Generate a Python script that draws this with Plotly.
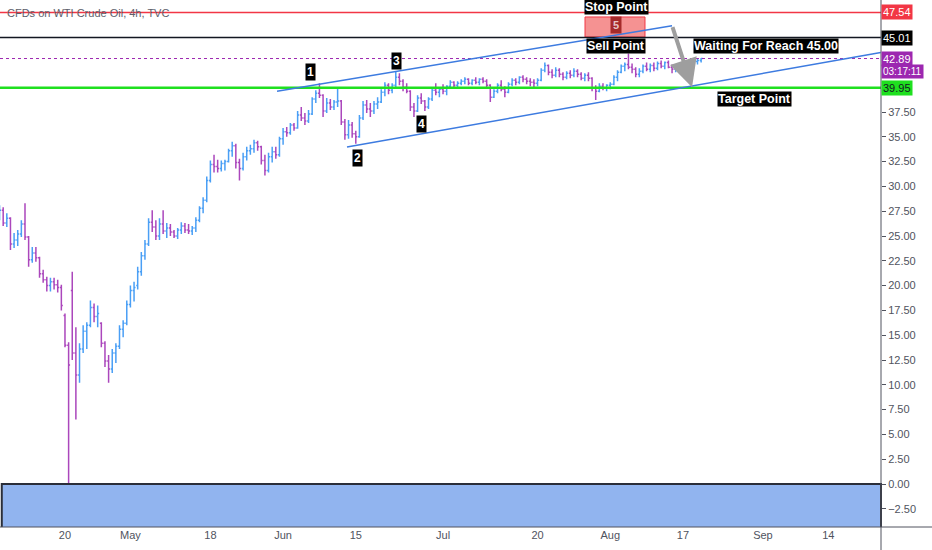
import plotly.graph_objects as go
import pandas as pd

days = pd.bdate_range("2020-04-07", "2020-08-19")
bar_times = [d + pd.Timedelta(hours=h) for d in days for h in (0, 12)]

# one line per trading week
opens = [
    27.2, 27.6, 26.3, 26.8, 24.2, 24.6, 25.2, 26.2,
    24.9, 22.6, 23.3, 22.8, 21.2, 20.6, 20.0, 20.4, 20.1, 19.8,
    17.0, 14.0, 19.5, 13.2, 11.0, 13.6, 15.4, 16.0, 17.8, 16.9,
    16.2, 14.2, 12.4, 11.6, 13.2, 13.9, 15.6, 16.2, 18.1, 19.5,
    20.0, 21.4, 23.0, 24.2, 26.4, 25.9, 25.0, 26.2, 25.5, 25.8,
    25.4, 25.0, 25.6, 26.0, 25.6, 25.5, 25.8, 26.6, 27.8, 28.6,
    30.6, 32.2, 32.0, 31.8, 32.3, 32.5, 33.6, 34.1, 32.4, 31.8,
    33.0, 33.6, 33.8, 34.4, 34.0, 32.6, 31.6, 33.0, 33.5, 33.2,
    34.8, 35.5, 35.4, 36.2, 35.9, 37.2, 36.9, 36.6, 37.3, 38.8,
    39.4, 39.2, 37.6, 38.4, 38.0, 38.5, 38.6, 36.5, 35.2, 36.2,
    35.3, 35.0, 36.9, 38.2, 37.8, 37.6, 38.3, 38.5, 39.5, 40.2,
    39.7, 40.2, 41.0, 40.6, 40.0, 39.6, 38.0, 37.6, 38.9, 38.6,
    38.0, 38.8, 39.7, 39.5, 39.8, 39.6, 40.1, 40.5, 40.2, 40.4,
    40.6, 40.8, 40.4, 40.7, 40.5, 40.8, 40.6, 40.2, 39.0, 39.6,
    40.2, 39.8, 39.5, 40.3, 40.7, 40.5, 41.0, 40.8, 40.6, 40.5,
    40.4, 40.7, 41.7, 42.2, 41.5, 41.2, 41.7, 41.3, 41.0, 41.4,
    41.2, 41.6, 41.3, 40.9, 41.2, 40.9, 39.9, 39.6, 40.1, 39.9,
    40.2, 40.3, 41.0, 41.5, 42.1, 42.3, 42.0, 41.8, 41.3, 41.6,
    42.1, 41.8, 42.2, 41.9, 42.4, 42.1, 42.5, 42.0, 41.8, 42.0,
    41.9, 42.4, 42.2, 42.5, 42.6, 42.7,
]
highs = [
    28.1, 27.9, 27.3, 26.9, 25.3, 25.6, 26.6, 28.3,
    25.0, 23.9, 23.9, 22.9, 21.6, 20.9, 20.8, 20.8, 20.6, 20.1,
    17.2, 14.3, 21.4, 15.8, 14.2, 16.0, 16.3, 18.5, 18.2, 18.0,
    16.3, 14.4, 13.0, 13.6, 14.2, 16.0, 16.5, 18.5, 20.0, 20.4,
    21.9, 23.4, 24.6, 26.8, 27.6, 26.6, 26.8, 27.6, 26.3, 26.2,
    25.6, 25.8, 26.4, 26.3, 26.2, 26.0, 26.9, 28.0, 28.9, 31.0,
    32.6, 33.2, 32.7, 32.6, 32.7, 33.8, 34.5, 34.3, 32.8, 33.4,
    34.0, 34.2, 34.7, 34.6, 34.1, 33.2, 33.4, 34.0, 34.0, 35.0,
    35.9, 36.0, 36.4, 36.4, 37.6, 38.0, 37.4, 37.7, 39.0, 39.7,
    40.4, 39.3, 38.9, 38.8, 38.7, 39.9, 38.7, 36.8, 36.7, 36.5,
    35.6, 37.2, 38.6, 38.7, 38.4, 38.6, 39.0, 39.8, 40.5, 40.4,
    40.4, 41.6, 41.4, 40.8, 40.4, 39.7, 38.4, 39.2, 39.4, 38.7,
    39.0, 40.0, 40.4, 40.0, 40.3, 40.2, 40.7, 40.6, 40.6, 40.8,
    41.0, 40.9, 40.8, 41.0, 40.9, 41.0, 40.8, 40.3, 39.8, 40.4,
    40.7, 40.1, 40.5, 40.9, 40.9, 41.1, 41.2, 41.0, 40.9, 40.8,
    40.9, 41.9, 42.5, 42.3, 41.8, 42.0, 41.9, 41.5, 41.6, 41.7,
    41.9, 41.8, 41.5, 41.4, 41.5, 41.0, 40.2, 40.4, 40.4, 40.3,
    40.5, 41.2, 41.7, 42.3, 42.5, 43.4, 42.4, 42.0, 41.9, 42.3,
    42.5, 42.4, 42.5, 42.6, 42.7, 42.6, 42.7, 42.3, 42.2, 42.4,
    42.6, 42.7, 42.7, 42.9, 42.9, 42.95,
]
lows = [
    26.6, 26.0, 25.9, 23.6, 23.8, 24.0, 24.9, 24.6,
    21.9, 22.3, 22.4, 20.8, 20.3, 19.4, 19.4, 19.6, 19.3, 17.5,
    13.8, 0.0, 12.5, 6.5, 10.2, 13.2, 13.6, 15.8, 16.3, 15.8,
    13.8, 11.8, 10.2, 11.2, 12.2, 13.6, 14.8, 16.0, 17.8, 18.4,
    19.6, 21.0, 22.6, 24.0, 25.4, 24.6, 24.6, 25.2, 24.8, 25.0,
    24.8, 24.7, 25.2, 25.3, 25.2, 25.1, 25.4, 26.4, 27.3, 28.4,
    30.4, 31.4, 31.4, 31.5, 31.6, 32.4, 33.0, 31.8, 30.6, 31.6,
    32.6, 33.2, 33.4, 33.6, 32.2, 31.1, 31.4, 32.4, 32.8, 33.0,
    34.2, 35.0, 35.2, 35.6, 35.8, 36.6, 36.2, 36.4, 37.2, 38.4,
    38.9, 37.0, 37.4, 37.7, 37.7, 38.0, 36.2, 34.7, 34.8, 34.9,
    34.3, 34.9, 36.7, 37.4, 37.0, 37.3, 37.8, 38.4, 39.1, 39.3,
    39.4, 40.0, 40.2, 39.6, 39.4, 37.6, 37.0, 37.5, 38.3, 37.6,
    37.8, 38.6, 39.2, 39.0, 39.3, 39.2, 39.9, 39.9, 39.9, 40.2,
    40.3, 40.2, 40.2, 40.3, 40.2, 40.4, 40.0, 38.5, 38.9, 39.4,
    39.6, 39.0, 39.4, 40.1, 40.2, 40.3, 40.5, 40.3, 40.1, 40.0,
    40.1, 40.6, 41.5, 41.2, 40.9, 41.0, 41.0, 40.7, 40.8, 40.9,
    41.0, 41.0, 40.7, 40.6, 40.6, 39.6, 38.7, 39.5, 39.7, 39.6,
    39.8, 40.2, 40.6, 41.4, 41.6, 41.8, 41.4, 41.0, 41.0, 41.4,
    41.6, 41.5, 41.6, 41.7, 41.9, 41.8, 41.9, 41.4, 41.5, 41.6,
    41.8, 42.0, 41.9, 42.2, 42.3, 42.5,
]
closes = [
    27.6, 26.3, 26.8, 24.2, 24.6, 25.2, 26.2, 24.9,
    22.6, 23.3, 22.8, 21.2, 20.6, 20.0, 20.4, 20.1, 19.8, 18.0,
    14.0, 12.0, 13.2, 11.0, 13.6, 15.4, 16.0, 17.8, 16.9, 17.2,
    14.2, 12.4, 11.6, 13.2, 13.9, 15.6, 16.2, 18.1, 19.5, 19.8,
    21.4, 23.0, 24.2, 26.4, 25.9, 25.0, 26.2, 25.5, 25.8, 25.4,
    25.0, 25.6, 26.0, 25.6, 25.5, 25.8, 26.6, 27.8, 28.6, 30.6,
    32.2, 32.0, 31.8, 32.3, 32.5, 33.6, 34.1, 32.4, 31.8, 33.0,
    33.6, 33.8, 34.4, 34.0, 32.6, 31.6, 33.0, 33.5, 33.2, 34.8,
    35.5, 35.4, 36.2, 35.9, 37.2, 36.9, 36.6, 37.3, 38.8, 39.4,
    39.2, 37.6, 38.4, 38.0, 38.5, 38.6, 36.5, 35.2, 36.2, 35.3,
    35.0, 36.9, 38.2, 37.8, 37.6, 38.3, 38.5, 39.5, 40.2, 39.7,
    40.2, 41.0, 40.6, 40.0, 39.6, 38.0, 37.6, 38.9, 38.6, 38.0,
    38.8, 39.7, 39.5, 39.8, 39.6, 40.1, 40.5, 40.2, 40.4, 40.6,
    40.8, 40.4, 40.7, 40.5, 40.8, 40.6, 40.2, 39.0, 39.6, 40.2,
    39.8, 39.5, 40.3, 40.7, 40.5, 41.0, 40.8, 40.6, 40.5, 40.4,
    40.7, 41.7, 42.2, 41.5, 41.2, 41.7, 41.3, 41.0, 41.4, 41.2,
    41.6, 41.3, 40.9, 41.2, 40.9, 39.9, 39.6, 40.1, 39.9, 40.2,
    40.3, 41.0, 41.5, 42.1, 42.3, 42.0, 41.8, 41.3, 41.6, 42.1,
    41.8, 42.2, 41.9, 42.4, 42.1, 42.5, 42.0, 41.8, 42.0, 41.9,
    42.4, 42.2, 42.5, 42.6, 42.7, 42.89,
]

# horizontal levels
stop_level = 47.54
sell_level = 45.01
last_price = 42.89
target_level = 39.95
countdown = "03:17:11"

# channel drawings
upper_dates = ["2020-05-29 04:00", "2020-08-13 12:00"]
upper_prices = [39.6, 46.2]
lower_dates = ["2020-06-11 19:00", "2020-09-23 05:00"]
lower_prices = [33.97, 43.5]

# wave labels
wave_labels = ["1", "2", "3", "4"]
wave_dates = ["2020-06-04 20:00", "2020-06-15 04:00", "2020-06-22 16:00", "2020-06-26 02:00"]
wave_prices = [41.55, 32.86, 42.64, 36.29]

# text boxes
note_texts = ["Stop Point", "Sell Point", "Waiting For Reach 45.00", "Target Point"]
note_dates = ["2020-08-03 20:00", "2020-08-03 18:00", "2020-09-01 10:00", "2020-08-28 21:00"]
note_prices = [48.05, 44.15, 44.15, 38.81]

# stop zone box and arrow
zone_dates = ["2020-07-28 12:40", "2020-08-07 18:40"]
zone_prices = [45.06, 47.08]
arrow_tail = ("2020-08-13 12:00", 46.2)
arrow_head = ("2020-08-18 06:00", 40.0)

x_ticks = ["2020-04-20", "2020-05-01", "2020-05-18", "2020-06-01", "2020-06-15", "2020-07-01",
           "2020-07-20", "2020-08-03", "2020-08-17", "2020-09-01", "2020-09-14"]
x_ticktext = ["20", "May", "18", "Jun", "15", "Jul", "20", "Aug", "17", "Sep", "14"]
y_ticks = [-2.5, 0, 2.5, 5, 7.5, 10, 12.5, 15, 17.5, 20, 22.5, 25, 27.5, 30, 32.5, 35, 37.5]

UP = "#4a9ff5"
DOWN = "#ab47bc"
FONT = "Liberation Sans"

fig = go.Figure(go.Ohlc(
    x=bar_times, open=opens, high=highs, low=lows, close=closes,
    increasing=dict(line=dict(color=UP, width=1.5)),
    decreasing=dict(line=dict(color=DOWN, width=1.5)),
    tickwidth=0.4, hoverinfo="skip", showlegend=False,
))

shapes = []
# levels
shapes.append(dict(type="line", xref="paper", x0=0, x1=1, yref="y", y0=stop_level, y1=stop_level,
                   line=dict(color="#f23645", width=1.5)))
shapes.append(dict(type="line", xref="paper", x0=0, x1=1, yref="y", y0=sell_level, y1=sell_level,
                   line=dict(color="#131722", width=1.5)))
shapes.append(dict(type="line", xref="paper", x0=0, x1=1, yref="y", y0=last_price, y1=last_price,
                   line=dict(color="#9c27b0", width=1, dash="dot")))
shapes.append(dict(type="line", xref="paper", x0=0, x1=1, yref="y", y0=target_level, y1=target_level,
                   line=dict(color="#1fe01f", width=2.5)))
# channel
shapes.append(dict(type="line", xref="x", yref="y", x0=upper_dates[0], x1=upper_dates[1],
                   y0=upper_prices[0], y1=upper_prices[1], line=dict(color="#3d7be0", width=1.5)))
shapes.append(dict(type="line", xref="x", yref="y", x0=lower_dates[0], x1=lower_dates[1],
                   y0=lower_prices[0], y1=lower_prices[1], line=dict(color="#3d7be0", width=1.5)))
# stop zone
shapes.append(dict(type="rect", xref="x", yref="y", x0=zone_dates[0], x1=zone_dates[1],
                   y0=zone_prices[0], y1=zone_prices[1], fillcolor="rgba(242,110,110,0.75)",
                   line=dict(color="#f23645", width=1), layer="below"))
# blue box under zero
shapes.append(dict(type="rect", xref="paper", x0=0.002, x1=1, yref="y", y0=-4.5, y1=0,
                   fillcolor="#91b4ef", line=dict(color="#2a2e39", width=2), layer="above"))
# frame lines of the time and price scales
shapes.append(dict(type="line", xref="paper", yref="paper", x0=0, x1=932 / 881, y0=0, y1=0,
                   line=dict(color="#50535e", width=1)))
shapes.append(dict(type="line", xref="paper", yref="paper", x0=1, x1=1, y0=-23 / 527, y1=1,
                   line=dict(color="#50535e", width=1)))

annotations = []
annotations.append(dict(xref="paper", yref="paper", x=0.006, y=0.976, xanchor="left", yanchor="middle",
                        text="CFDs on WTI Crude Oil, 4h, TVC", showarrow=False,
                        font=dict(family=FONT, size=11, color="#5d606b")))
for t, d, p in zip(wave_labels, wave_dates, wave_prices):
    annotations.append(dict(x=d, y=p, text="<b>%s</b>" % t, showarrow=False, bgcolor="#000000",
                            borderpad=1, font=dict(family=FONT, size=12, color="white")))
for t, d, p in zip(note_texts, note_dates, note_prices):
    annotations.append(dict(x=d, y=p, text="<b>%s</b>" % t, showarrow=False, bgcolor="#000000",
                            borderpad=0, font=dict(family=FONT, size=12.5, color="white")))
annotations.append(dict(x=note_dates[0], y=46.27, text="<b>5</b>", showarrow=False,
                        bgcolor="#a52a2a", borderpad=2, font=dict(family=FONT, size=11, color="#e8c4c4")))
annotations.append(dict(x=arrow_head[0], y=arrow_head[1], ax=arrow_tail[0], ay=arrow_tail[1],
                        axref="x", ayref="y", text="", showarrow=True, arrowhead=2, arrowsize=1.4,
                        arrowwidth=4, arrowcolor="#9e9e9e"))

# price scale tags
tags = [(stop_level, "%.2f" % stop_level, "#f23645", "white"),
        (sell_level, "%.2f" % sell_level, "#000000", "white"),
        (last_price, "%.2f" % last_price, "#9c27b0", "white"),
        (target_level, "%.2f" % target_level, "#1fe01f", "#131722")]
for p, t, bg, fc in tags:
    annotations.append(dict(xref="paper", x=1, xanchor="left", yref="y", y=p, text=t, showarrow=False,
                            bgcolor=bg, borderpad=1, font=dict(family=FONT, size=11, color=fc)))
annotations.append(dict(xref="paper", x=1, xanchor="left", yref="y", y=last_price - 1.32, text=countdown,
                        showarrow=False, bgcolor="#9c27b0", borderpad=1,
                        font=dict(family=FONT, size=10, color="white")))

fig.update_layout(
    width=932, height=550,
    margin=dict(l=0, r=51, t=0, b=23, autoexpand=False),
    paper_bgcolor="white", plot_bgcolor="white",
    shapes=shapes, annotations=annotations,
    font=dict(family=FONT, size=11, color="#50535e"),
    xaxis=dict(
        range=["2020-04-07 01:30", "2020-09-23 05:45"],
        rangebreaks=[dict(bounds=["sat", "mon"])],
        rangeslider=dict(visible=False),
        tickvals=x_ticks, ticktext=x_ticktext,
        showgrid=False, zeroline=False, showline=False, ticks="",
        automargin=False,
        tickfont=dict(family=FONT, size=11, color="#50535e"),
    ),
    yaxis=dict(
        side="right", range=[-4.33, 48.79],
        tickvals=y_ticks, ticktext=[("%.2f" % v).replace("-", "\u2212") for v in y_ticks],
        showgrid=False, zeroline=False, showline=False,
        ticks="outside", ticklen=4, tickcolor="#50535e", automargin=False,
        tickfont=dict(family=FONT, size=11, color="#50535e"),
    ),
)

# page body has a default 8px margin; drop it so the figure fills the window
fig.write_html("out.html", config={"displayModeBar": False},
               post_script="document.body.style.margin='0';")
